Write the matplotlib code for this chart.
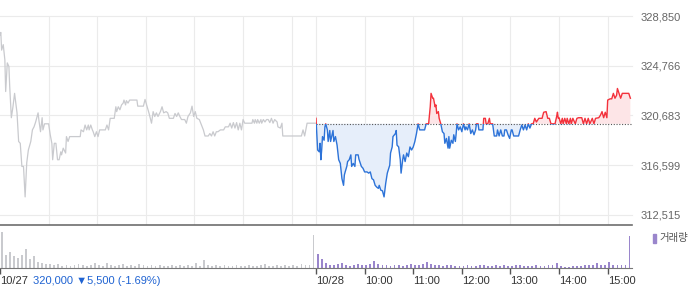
import matplotlib
matplotlib.use("Agg")
import matplotlib.pyplot as plt
from matplotlib.patches import Rectangle
from matplotlib.ticker import FuncFormatter

plt.rcParams['font.family'] = ['Liberation Sans', 'Noto Sans CJK KR', 'DejaVu Sans']

# --- data -------------------------------------------------------------
# 10/27 (previous day), minutes after 09:00 and price
d1_min = [0, 1, 2, 4, 6, 7, 9, 11, 12, 14,
          16, 18, 20, 21, 23, 25, 27, 29, 31, 33,
          35, 38, 40, 42, 44, 47, 48, 50, 52, 53,
          55, 60, 62, 64, 65, 67, 69, 71, 73, 75,
          76, 78, 81, 82, 84, 86, 99, 100, 103, 105,
          107, 109, 110, 112, 114, 115, 117, 119, 121, 123,
          130, 132, 134, 136, 141, 143, 144, 146, 148, 150,
          152, 153, 155, 156, 158, 160, 169, 170, 177, 179,
          181, 184, 187, 189, 191, 193, 195, 198, 200, 202,
          205, 207, 209, 214, 216, 218, 220, 222, 224, 228,
          230, 232, 235, 237, 239, 241, 243, 246, 248, 251,
          253, 257, 259, 261, 263, 265, 267, 269, 272, 276,
          278, 282, 284, 286, 288, 290, 292, 294, 296, 298,
          300, 302, 311, 312, 314, 315, 317, 318, 320, 322,
          323, 325, 327, 329, 331, 333, 335, 337, 339, 342,
          343, 346, 348, 349, 372, 374, 376, 379, 390]
d1_price = [327300, 327500, 326050, 326500, 325250, 322650, 325000, 324700, 323050, 320500,
            321400, 322500, 321400, 320900, 318550, 318400, 316500, 316500, 314000, 316800,
            317850, 318550, 319500, 319750, 320150, 320900, 320300, 319350, 320500, 319500,
            320000, 320000, 319100, 318400, 317050, 318400, 318400, 317050, 317050, 317700,
            317450, 318000, 317600, 318950, 318550, 318950, 318950, 319500, 319350, 319900,
            319500, 319900, 319500, 319900, 319500, 319350, 318950, 319350, 318950, 319500,
            319500, 319900, 319500, 320450, 320450, 321400, 321000, 321400, 321150, 321550,
            321700, 321950, 321550, 321900, 321700, 321950, 321950, 321450, 321450, 322000,
            321550, 320850, 320050, 321000, 320600, 320900, 320600, 321000, 321400, 320900,
            321000, 320900, 320450, 320450, 320850, 320600, 320900, 320600, 320350, 320350,
            320050, 320600, 320900, 321450, 320600, 321000, 320450, 320350, 320000, 319500,
            319000, 319000, 319200, 319000, 319350, 319000, 319350, 319350, 319500, 319500,
            319750, 319750, 320050, 319650, 320100, 319650, 320100, 319500, 320050, 319500,
            320350, 320050, 320050, 320350, 320050, 320350, 320050, 320350, 320050, 320350,
            320050, 320350, 320150, 320350, 320350, 320100, 320450, 320050, 320350, 320150,
            319750, 319650, 320050, 319000, 319000, 319500, 319000, 320050, 320050]

# 10/28 (today), minutes after 09:00 and price
d2_min = [0, 2, 4, 5, 6, 7, 8, 10, 11, 12,
          14, 15, 17, 18, 21, 22, 24, 26, 28, 30,
          32, 34, 35, 36, 38, 39, 41, 43, 44, 46,
          48, 49, 52, 53, 54, 56, 58, 60, 63, 65,
          67, 69, 71, 73, 75, 77, 78, 80, 82, 84,
          86, 88, 91, 92, 94, 95, 98, 99, 100, 102,
          104, 105, 107, 108, 110, 112, 114, 116, 118, 120,
          122, 124, 126, 128, 134, 136, 139, 141, 142, 144,
          145, 147, 148, 149, 151, 152, 154, 156, 158, 159,
          161, 163, 164, 165, 167, 169, 170, 172, 173, 174,
          176, 178, 180, 182, 184, 185, 187, 189, 191, 193,
          195, 197, 198, 200, 201, 206, 207, 209, 210, 212,
          214, 215, 218, 220, 223, 224, 226, 228, 230, 232,
          233, 235, 237, 239, 241, 242, 244, 250, 252, 254,
          256, 258, 260, 262, 264, 266, 268, 270, 272, 275,
          279, 281, 284, 286, 288, 290, 295, 297, 298, 299,
          300, 302, 304, 305, 307, 309, 310, 312, 314, 315,
          317, 320, 322, 324, 328, 330, 332, 334, 336, 338,
          341, 343, 345, 349, 351, 353, 355, 357, 359, 360,
          363, 365, 367, 369, 371, 372, 374, 376, 378, 386,
          388]
d2_price = [320450, 317850, 317700, 318400, 317050, 317850, 318950, 318650, 319750, 320000,
            319500, 318550, 319450, 318550, 319450, 318550, 318950, 318250, 317050, 316750,
            315500, 314950, 315800, 316050, 316500, 316900, 317050, 317450, 316500, 316750,
            316500, 317450, 317450, 317100, 316900, 316500, 316350, 316050, 316050, 315950,
            316050, 315500, 315400, 314950, 314800, 314700, 314950, 314550, 314500, 314000,
            315100, 315950, 316600, 317600, 318100, 318950, 319200, 319450, 318250, 318100,
            317050, 315950, 317050, 317450, 316900, 317600, 317300, 318100, 317850, 318100,
            318550, 319200, 320000, 319500, 319500, 320000, 320000, 321400, 322500, 322100,
            322100, 321400, 321550, 320850, 321000, 320450, 320000, 319350, 319200, 318400,
            318800, 318000, 318950, 318000, 318650, 318400, 319100, 318550, 319200, 320000,
            319500, 319750, 319350, 320000, 319500, 319750, 319500, 320000, 319200, 319500,
            319100, 319500, 320000, 320000, 319500, 319500, 320450, 320450, 320000, 320000,
            320450, 320000, 320000, 319000, 319000, 319500, 319000, 319500, 319000, 319000,
            319500, 319500, 319100, 318800, 319500, 319500, 319000, 319000, 319500, 319900,
            319500, 319900, 319500, 320000, 319650, 320000, 320000, 320450, 320150, 320450,
            320450, 320950, 321000, 320450, 320450, 320000, 320000, 320600, 320950, 320450,
            320500, 320000, 320450, 320000, 320450, 320000, 320450, 320000, 320450, 320000,
            320450, 320000, 320450, 320500, 320500, 320000, 320450, 320000, 320450, 320000,
            320450, 320000, 320450, 320500, 320700, 321000, 320500, 320950, 320500, 321950,
            322050, 322050, 322500, 322100, 322350, 322900, 322500, 322100, 322500, 322500,
            322100]

base_price = 320000

# volume, 5-minute bins
d1_vol = [90, 33, 40, 30, 25, 33, 48, 22, 30, 15, 12, 10,
          10, 8, 10, 5, 8, 5, 8, 10, 8, 5, 8, 12,
          8, 5, 12, 8, 5, 8, 10, 5, 8, 5, 10, 8,
          5, 8, 5, 8, 5, 5, 8, 5, 8, 5, 8, 5,
          12, 5, 20, 8, 5, 8, 5, 8, 5, 5, 8, 5,
          5, 8, 5, 5, 8, 10, 5, 5, 8, 5, 8, 5,
          8, 5, 10, 8, 8, 82]
d2_vol = [35, 22, 12, 8, 8, 10, 12, 8, 5, 8, 10, 8,
          8, 10, 18, 10, 8, 8, 5, 8, 8, 5, 8, 10,
          8, 8, 10, 15, 10, 8, 8, 5, 8, 8, 5, 5,
          5, 8, 5, 5, 8, 8, 5, 5, 8, 5, 8, 5,
          5, 8, 8, 5, 5, 5, 8, 5, 5, 8, 8, 12,
          5, 2, 2, 5, 5, 5, 8, 8, 8, 12, 8, 8,
          15, 8, 8, 8, 8, 80]

y_ticks = [312515, 316599, 320683, 324766, 328850]
x_tick_pos = [0, 390, 450, 510, 570, 630, 690, 750]
x_tick_labels = ['10/27', '10/28', '10:00', '11:00', '12:00', '13:00', '14:00', '15:00']
quote_text = '320,000 \u25bc5,500 (-1.69%)'

# --- figure -------------------------------------------------------------
fig = plt.figure(figsize=(7, 2.89), dpi=100)
ax = fig.add_axes([0, 1 - 225 / 289, 632 / 700, 209 / 289])
vax = fig.add_axes([0, 1 - 268 / 289, 632 / 700, 40 / 289])

grey = '#c9cace'
blue = '#2d73d8'
red = '#f3323c'
purple = '#9a86cc'

x2 = [m + 390 for m in d2_min]
ymin, ymax = 311693, 328850

# grid
for yt in y_ticks:
    ax.axhline(yt, color='#ebebeb', lw=0.8, zorder=0, clip_on=False)
for h in list(range(60, 391, 60)) + [390] + list(range(450, 751, 60)):
    ax.axvline(h, color='#ebebeb', lw=0.8, zorder=0)

# yesterday
ax.plot(d1_min, d1_price, color=grey, lw=0.9, zorder=3)

# today: fills and coloured line
ax.fill_between(x2, d2_price, base_price, where=[p <= base_price for p in d2_price],
                interpolate=True, color='#e6eefa', lw=0, zorder=1)
ax.fill_between(x2, d2_price, base_price, where=[p >= base_price for p in d2_price],
                interpolate=True, color='#fde5e7', lw=0, zorder=1)
ax.plot([390, 780], [base_price, base_price], color='#555555', lw=0.8,
        ls=(0, (1, 1.5)), zorder=2)

up_clip = Rectangle((390, base_price), 400, ymax - base_price, transform=ax.transData)
dn_clip = Rectangle((390, ymin), 400, base_price - ymin, transform=ax.transData)
l_up, = ax.plot(x2, d2_price, color=red, lw=1.0, zorder=4)
l_up.set_clip_path(up_clip)
l_dn, = ax.plot(x2, d2_price, color=blue, lw=1.0, zorder=4)
l_dn.set_clip_path(dn_clip)

ax.set_xlim(0, 780)
ax.set_ylim(ymin, ymax)
ax.set_xticks([])
ax.yaxis.tick_right()
ax.set_yticks(y_ticks)
ax.yaxis.set_major_formatter(FuncFormatter(lambda v, p: '{:,.0f}'.format(v)))
ax.tick_params(axis='y', length=0, pad=6, labelsize=8, labelcolor='#666666')
for s in ['top', 'left', 'right']:
    ax.spines[s].set_visible(False)
ax.spines['bottom'].set_color('#6e6e6e')
ax.spines['bottom'].set_linewidth(1.2)
ax.patch.set_alpha(0)

# volume
vx1 = [5 * i + 2 for i in range(len(d1_vol))]
vx2 = [390 + 5 * i + 2 for i in range(len(d2_vol))]
vax.bar(vx1, d1_vol, width=2.2, color=grey, lw=0)
vax.bar(vx2, d2_vol, width=2.2, color=purple, lw=0)
vax.set_xlim(0, 780)
vax.set_ylim(0, 100)
vax.set_yticks([])
vax.set_xticks(x_tick_pos)
vax.set_xticklabels(x_tick_labels)
for lab in vax.get_xticklabels():
    lab.set_horizontalalignment('left')
vax.tick_params(axis='x', length=4, width=1, color='#555555', pad=2,
                labelsize=8, labelcolor='#333333')
for s in ['top', 'left', 'right']:
    vax.spines[s].set_visible(False)
vax.spines['bottom'].set_color('#777777')
vax.patch.set_alpha(0)

fig.text(33 / 700, 1 - 281 / 289, quote_text, color='#1f63d2', fontsize=8,
         va='center', ha='left')

# legend for volume
fig.patches.append(Rectangle((653 / 700, 1 - 243 / 289), 3 / 700, 9 / 289,
                             transform=fig.transFigure, color=purple))
fig.text(659 / 700, 1 - 238.5 / 289, '거래량', color='#555555', fontsize=7.5,
         va='center', ha='left')

fig.savefig('out.png', dpi=100)
